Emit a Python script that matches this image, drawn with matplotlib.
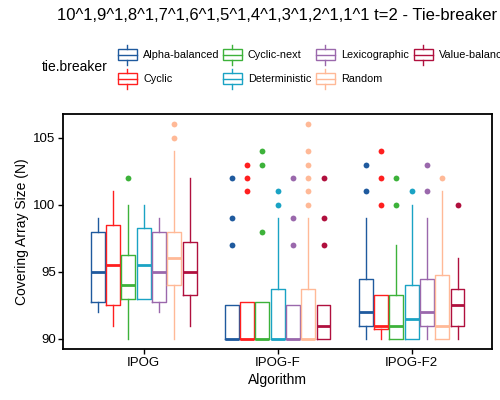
import matplotlib
matplotlib.use('Agg')
import matplotlib.pyplot as plt
from matplotlib.patches import Rectangle

plt.rcParams['font.family'] = ['Liberation Sans', 'DejaVu Sans']

# --- data (quartiles / whiskers / outliers per group) ---
tiebreakers = ['Alpha-balanced', 'Cyclic', 'Cyclic-next', 'Deterministic',
               'Lexicographic', 'Random', 'Value-balanced']
colors = ['#1F5A9E', '#FF1F1F', '#3DB23A', '#1AA3C4',
          '#9A68AC', '#FFB997', '#B0103E']
algorithms = ['IPOG', 'IPOG-F', 'IPOG-F2']

ipog_q1 = [92.75, 92.5, 93, 93, 92.75, 94, 93.25]
ipog_med = [95, 95.5, 94, 95.5, 95, 96, 95]
ipog_q3 = [98, 98.5, 96.25, 98.25, 98, 98, 97.25]
ipog_lo = [92, 91, 90, 93, 92, 90, 91]
ipog_hi = [99, 101, 100, 100, 99, 104, 102]
ipog_out = [[], [], [102], [], [], [105, 106], []]

ipogf_q1 = [90, 90, 90, 90, 90, 90, 90]
ipogf_med = [90, 90, 90, 90, 90, 90, 91]
ipogf_q3 = [92.5, 92.75, 92.75, 93.75, 92.5, 93.75, 92.5]
ipogf_lo = [90, 90, 90, 90, 90, 90, 90]
ipogf_hi = [92.5, 92.75, 92.75, 99, 92.5, 99, 92.5]
ipogf_out = [[97, 99, 102], [101, 102, 103], [98, 103, 104], [100, 101],
             [97, 99, 102], [100, 101, 102, 103, 104, 106], [97, 99, 102]]

ipogf2_q1 = [91, 90.75, 90, 90, 91, 90, 91]
ipogf2_med = [92, 91, 91, 91.5, 92, 91, 92.5]
ipogf2_q3 = [94.5, 93.25, 93.25, 94, 94.5, 94.75, 93.75]
ipogf2_lo = [90, 90, 90, 90, 90, 90, 90]
ipogf2_hi = [99, 93.25, 97, 100, 99, 101, 96]
ipogf2_out = [[101, 103], [100, 102, 104], [100, 102], [101],
              [101, 103], [102], [100]]

groups = [
    (ipog_q1, ipog_med, ipog_q3, ipog_lo, ipog_hi, ipog_out),
    (ipogf_q1, ipogf_med, ipogf_q3, ipogf_lo, ipogf_hi, ipogf_out),
    (ipogf2_q1, ipogf2_med, ipogf2_q3, ipogf2_lo, ipogf2_hi, ipogf2_out),
]

fig = plt.figure(figsize=(5, 4), dpi=100)
ax = fig.add_axes([0.1266, 0.1268, 0.8574, 0.5882])

dodge = 0.8 / len(tiebreakers)
for gi, (q1, med, q3, lo, hi, out) in enumerate(groups):
    for ti, col in enumerate(colors):
        pos = gi + 1 + (ti - 3) * dodge
        st = dict(med=med[ti], q1=q1[ti], q3=q3[ti], whislo=lo[ti],
                  whishi=hi[ti], fliers=out[ti])
        ax.bxp([st], positions=[pos], widths=dodge * 0.9, showcaps=False,
               boxprops=dict(color=col, lw=1.0),
               whiskerprops=dict(color=col, lw=1.0),
               medianprops=dict(color=col, lw=2.0, solid_capstyle='butt'),
               flierprops=dict(marker='o', markerfacecolor=col,
                               markeredgecolor='none', markersize=4.2),
               manage_ticks=False)

ax.set_xlim(0.4, 3.6)
ax.set_ylim(89.23, 106.77)
ax.set_xticks([1, 2, 3])
ax.set_xticklabels(algorithms)
ax.set_yticks([90, 95, 100, 105])
ax.tick_params(labelsize=9.5, colors='black', length=3.5, width=1.0, pad=2)
for s in ax.spines.values():
    s.set_linewidth(1.3)
    s.set_color('black')
ax.set_xlabel('Algorithm', fontsize=10, labelpad=3)
ax.set_ylabel('Covering Array Size (N)', fontsize=10, labelpad=3)

fig.text(277, 400 - 15, '10^1,9^1,8^1,7^1,6^1,5^1,4^1,3^1,2^1,1^1 t=2 - Tie-breaker',
         transform=None, ha='center', va='center', fontsize=12)

# legend drawn by hand in pixel coordinates
lax = fig.add_axes([0, 0, 1, 1])
lax.set_xlim(0, 500)
lax.set_ylim(400, 0)
lax.axis('off')
lax.text(42, 67, 'tie.breaker', ha='left', va='center', fontsize=10)
key_x = [118, 223, 316, 414]
text_x = [143, 248, 341, 439]
row_y = [54.5, 78.5]
for ti, (name, col) in enumerate(zip(tiebreakers, colors)):
    c, r = ti // 2, ti % 2
    x0, yc = key_x[c], row_y[r]
    lax.add_patch(Rectangle((x0, yc - 5.7), 18.5, 11.4, fill=False,
                            edgecolor=col, lw=1.0))
    lax.plot([x0, x0 + 18.5], [yc, yc], color=col, lw=1.0)
    lax.plot([x0 + 9.25] * 2, [yc - 10, yc - 5.7], color=col, lw=1.0)
    lax.plot([x0 + 9.25] * 2, [yc + 5.7, yc + 10], color=col, lw=1.0)
    lax.text(text_x[c], yc, name, ha='left', va='center', fontsize=7.8)

fig.savefig('out.png', dpi=100)
